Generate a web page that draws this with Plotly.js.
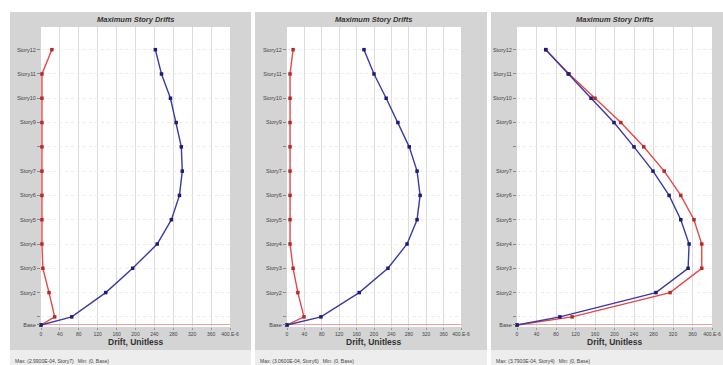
<!DOCTYPE html>
<html><head><meta charset="utf-8">
<script src="https://cdn.plot.ly/plotly-3.0.1.min.js"></script>
<style>html,body{margin:0;padding:0;background:#fff;}#c{width:723px;height:365px;}</style>
</head><body><div id="c"></div>
<script>
// Story names and elevations (m)
const stories = ['Base','Story1','Story2','Story3','Story4','Story5','Story6','Story7','Story8','Story9','Story10','Story11','Story12'];
const elev = [0,1,4,7,10,13,16,19,22,25,28,31,34];
const storyTickText = ['Base','','Story2','Story3','Story4','Story5','Story6','Story7','','Story9','Story10','Story11','Story12'];
// Drift values (x 1E-6), Base -> Story12
const p1Blue = [0,65,137,194,246,276,293,299,297,286,274,255,242];
const p1Red  = [0,29,17,4,2,2,2,2,2,2,2,2,23];
const p2Blue = [0,78,166,232,276,299,306,299,281,255,228,200,177];
const p2Red  = [0,39,25,14,7,7,7,7,7,7,7,7,14];
const p3Blue = [0,88,285,351,353,336,312,279,240,199,152,105,59];
const p3Red  = [0,113,314,379,379,363,336,302,260,213,160,107,59];
const xTickVals = [0,40,80,120,160,200,240,280,320,360,400];
const xTickText = ['0','40','80','120','160','200','240','280','320','360','400.E-6'];
const panelTitle = 'Maximum Story Drifts';
const xTitle = 'Drift, Unitless';
const statusText = ['Max: (2.9900E-04, Story7)   Min: (0, Base)','Max: (3.0600E-04, Story6)   Min: (0, Base)','Max: (3.7900E-04, Story4)   Min: (0, Base)'];

const W=723,H=365;
const px=v=>v/W, py=v=>1-v/H;
const plotBox=[[41,230],[287,461],[517,712]];
const grayBox=[[10,251],[255,487],[491,723]];
const BLUE='#3a3aa8', BLUEM='#1c1c78', RED='#e64848', REDM='#b82828';

const series=[[p1Blue,p1Red],[p2Blue,p2Red],[p3Blue,p3Red]];
const traces=[];
series.forEach((s,i)=>{
  const ax = i===0?'':String(i+1);
  traces.push({x:s[1],y:elev,type:'scatter',mode:'lines+markers',xaxis:'x'+ax,yaxis:'y'+ax,
    line:{color:RED,width:1.4},marker:{color:REDM,size:3.5,symbol:'square'},cliponaxis:false,hoverinfo:'skip'});
  traces.push({x:s[0],y:elev,type:'scatter',mode:'lines+markers',xaxis:'x'+ax,yaxis:'y'+ax,
    line:{color:BLUE,width:1.4},marker:{color:BLUEM,size:3.5,symbol:'square'},cliponaxis:false,hoverinfo:'skip'});
});

const layout={width:W,height:H,margin:{l:0,r:0,t:0,b:0},paper_bgcolor:'#ffffff',plot_bgcolor:'#ffffff',
  showlegend:false,font:{family:'Liberation Sans, Arial, sans-serif',color:'#333'},shapes:[],annotations:[]};

plotBox.forEach((b,i)=>{
  const ax = i===0?'':String(i+1);
  layout['xaxis'+ax]={domain:[px(b[0]),px(b[1])],anchor:'y'+ax,range:[0,400],tickvals:xTickVals,ticktext:xTickText,
    showgrid:true,gridcolor:'#dcdcdc',gridwidth:1,zeroline:false,showline:false,ticks:'outside',ticklen:2,tickcolor:'#999',
    tickfont:{size:5,color:'#444'},fixedrange:true};
  layout['yaxis'+ax]={domain:[py(327),py(27)],anchor:'x'+ax,range:[-0.25,36.8],tickvals:elev,ticktext:storyTickText,
    showgrid:true,gridcolor:'#ececec',griddash:'dot',gridwidth:1,zeroline:true,zerolinecolor:'#f2a0a0',zerolinewidth:1,
    showline:false,ticks:'outside',ticklen:3,tickcolor:'#888',tickfont:{size:5.5,color:'#444'},fixedrange:true};
  const g=grayBox[i];
  layout.shapes.push({type:'rect',xref:'paper',yref:'paper',x0:px(g[0]),x1:px(g[1]),y0:py(350),y1:py(12),
    fillcolor:'#d4d4d4',line:{width:0},layer:'below'});
  layout.shapes.push({type:'rect',xref:'paper',yref:'paper',x0:px(g[0]),x1:px(g[1]),y0:py(365),y1:py(350),
    fillcolor:'#ededed',line:{width:0},layer:'below'});
  layout.shapes.push({type:'rect',xref:'paper',yref:'paper',x0:px(b[0]),x1:px(b[1]),y0:py(327),y1:py(27),
    fillcolor:'#ffffff',line:{width:0},layer:'below'});
  const cx=px((b[0]+b[1])/2);
  layout.annotations.push({xref:'paper',yref:'paper',x:cx,y:py(19),text:'<b><i>'+panelTitle+'</i></b>',showarrow:false,
    font:{size:7.5,color:'#333'},xanchor:'center',yanchor:'middle'});
  layout.annotations.push({xref:'paper',yref:'paper',x:cx,y:py(342),text:'<b>'+xTitle+'</b>',showarrow:false,
    font:{size:8.5,color:'#333'},xanchor:'center',yanchor:'middle'});
  layout.annotations.push({xref:'paper',yref:'paper',x:px(g[0]+3),y:py(361),text:statusText[i],showarrow:false,
    font:{size:5,color:'#444'},xanchor:'left',yanchor:'middle'});
});

Plotly.newPlot('c',traces,layout,{staticPlot:true,displayModeBar:false});
</script></body></html>
